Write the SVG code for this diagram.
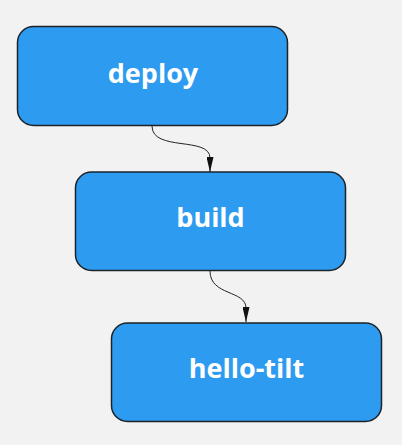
<svg xmlns="http://www.w3.org/2000/svg" width="402" height="445" viewBox="0 0 402 445">
<defs>
<style>
.node rect{fill:#2d9bf0;stroke:#1d2327;stroke-width:1.5}
.node text{fill:#ffffff;font-family:"Open Sans","Noto Sans",sans-serif;font-weight:bold;font-size:27px;text-anchor:middle}
.edge{fill:none;stroke:#222;stroke-width:1}
</style>
<marker id="arr" viewBox="0 0 15 7" refX="15" refY="3.5" markerWidth="15" markerHeight="7" markerUnits="userSpaceOnUse" orient="auto">
<path d="M0,0 L15,3.5 L0,7 z" fill="#111"/>
</marker>
</defs>
<rect width="402" height="445" fill="#f2f2f2"/>
<g id="connectors">
<path class="edge" d="M152,126 C152,152 210,136 210,158 L210,172" marker-end="url(#arr)"/>
<path class="edge" d="M210,271 C210,296 246,290 246,308 L246,322" marker-end="url(#arr)"/>
</g>
<g id="deploy" class="node">
<rect x="17.5" y="26.5" width="270" height="99" rx="16"/>
<text x="153" y="83">deploy</text>
</g>
<g id="build" class="node">
<rect x="75.5" y="172" width="270" height="98.5" rx="16"/>
<text x="210.5" y="227">build</text>
</g>
<g id="hello-tilt" class="node">
<rect x="111.5" y="323" width="270" height="98.5" rx="16"/>
<text x="246.5" y="378">hello-tilt</text>
</g>
</svg>
